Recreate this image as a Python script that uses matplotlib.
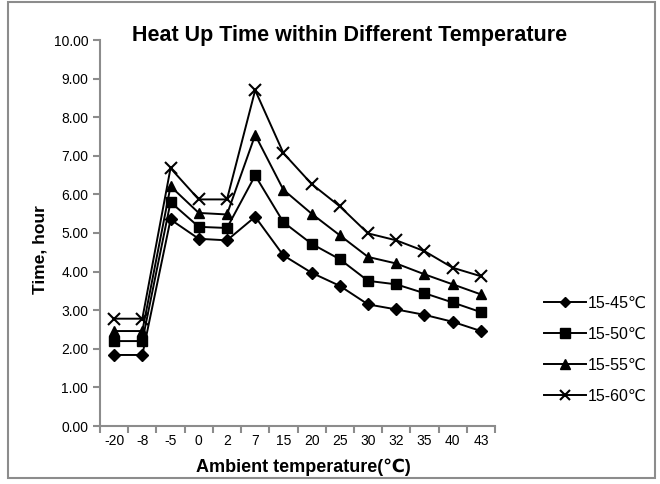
import matplotlib
matplotlib.use("Agg")
import matplotlib.pyplot as plt
from matplotlib.patches import Rectangle
import numpy as np

# ambient temperature categories (evenly spaced on the chart)
categories = ["-20", "-8", "-5", "0", "2", "7", "15", "20", "25", "30", "32", "35", "40", "43"]

t_45 = [1.84, 1.84, 5.35, 4.85, 4.81, 5.42, 4.42, 3.97, 3.63, 3.15, 3.02, 2.88, 2.70, 2.46]
t_50 = [2.20, 2.20, 5.80, 5.16, 5.13, 6.49, 5.28, 4.72, 4.32, 3.76, 3.67, 3.44, 3.20, 2.95]
t_55 = [2.46, 2.46, 6.21, 5.52, 5.48, 7.54, 6.12, 5.50, 4.94, 4.38, 4.21, 3.93, 3.67, 3.41]
t_60 = [2.78, 2.78, 6.68, 5.87, 5.87, 8.70, 7.07, 6.27, 5.69, 4.99, 4.81, 4.53, 4.10, 3.88]

series_labels = ["15-45℃", "15-50℃", "15-55℃", "15-60℃"]
y_ticks = [0, 1, 2, 3, 4, 5, 6, 7, 8, 9, 10]

plt.rcParams['font.family'] = ['Liberation Sans', 'DejaVu Sans']

fig = plt.figure(figsize=(6.6, 4.84), dpi=100)
fig.patches.append(Rectangle((8 / 660, 6 / 484), 647 / 660, 476 / 484,
                             transform=fig.transFigure, fill=False,
                             edgecolor="#8c8c8c", linewidth=1.5))

ax = fig.add_axes([100 / 660, 58 / 484, 395 / 660, 386 / 484])

x = np.arange(len(categories))
styles = [("D", 6, 1.0), ("s", 7.5, 1.0), ("^", 7.5, 1.0), ("x", 8, 1.5)]
for vals, lab, (mk, ms, mew) in zip([t_45, t_50, t_55, t_60], series_labels, styles):
    ax.plot(x, vals, color="black", linewidth=1.4, marker=mk, markersize=ms,
            markeredgewidth=mew, markerfacecolor="black", markeredgecolor="black",
            label=lab)

ax.set_xlim(-0.5, len(categories) - 0.5)
ax.set_ylim(0, 10)
ax.set_yticks(y_ticks)
ax.set_yticklabels([f"{v:.2f}" for v in y_ticks])
ax.set_xticks(np.arange(-0.5, len(categories), 1.0))
ax.set_xticklabels([])
ax.set_xticks(x, minor=True)
ax.set_xticklabels(categories, minor=True)
ax.tick_params(axis="x", which="minor", length=0, labelsize=10, pad=6)
ax.tick_params(axis="x", which="major", length=5, color="#8c8c8c", width=1.5)
ax.tick_params(axis="y", length=5, color="#8c8c8c", width=1.5, labelsize=10)

for side in ["top", "right"]:
    ax.spines[side].set_visible(False)
for side in ["left", "bottom"]:
    ax.spines[side].set_color("#8c8c8c")
    ax.spines[side].set_linewidth(1.5)

fig.text(350 / 660, 1 - 36 / 484, "Heat Up Time within Different Temperature",
         ha="center", va="center", fontsize=15.5, fontweight="bold")
fig.text(303 / 660, 1 - 467 / 484, "Ambient temperature(℃)",
         ha="center", va="center", fontsize=13, fontweight="bold")
fig.text(40 / 660, 1 - 250 / 484, "Time, hour", rotation=90,
         ha="center", va="center", fontsize=12.5, fontweight="bold")

ax.legend(loc="center left", bbox_to_anchor=(530 / 660, 1 - 350 / 484),
          bbox_transform=fig.transFigure, frameon=False, fontsize=11.5,
          handlelength=2.6, handletextpad=0.1, labelspacing=1.0,
          markerscale=0.9)

fig.savefig("out.png", dpi=100)
